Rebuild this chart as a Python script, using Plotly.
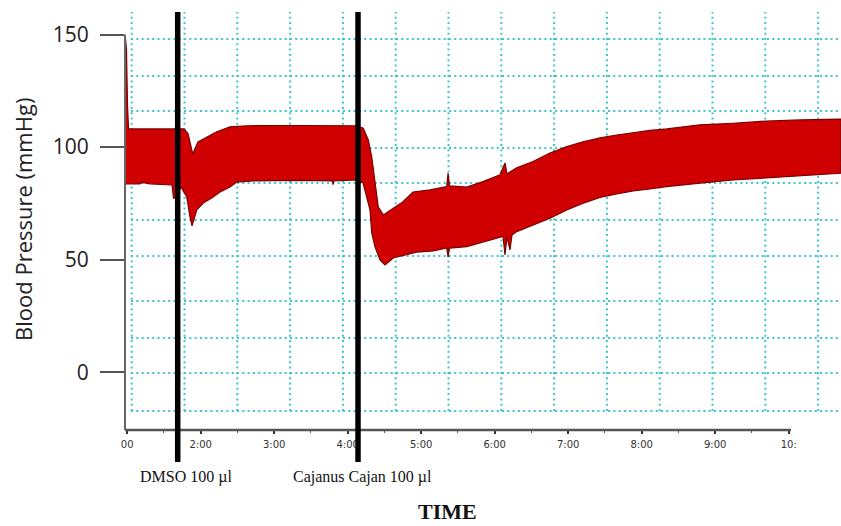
import plotly.graph_objects as go

# ---------------- data (time in minutes, pressure in mmHg) ----------------
UPPER_T = [0.975, 0.990, 1.004, 1.018, 1.664, 1.773, 1.828, 1.854, 1.891, 1.963,
           2.099, 2.218, 2.399, 2.626, 3.351, 4.122, 4.212, 4.280, 4.327, 4.371,
           4.416, 4.484, 4.616, 4.752, 4.888, 5.120, 5.347, 5.365, 5.385, 5.619,
           5.841, 6.072, 6.140, 6.167, 6.299, 6.521, 6.752, 6.980, 7.201, 7.433,
           7.660, 7.882, 8.113, 8.340, 8.793, 9.242, 9.701, 10.154, 10.711]
UPPER_BP = [149.0, 143.2, 118.7, 108.1, 108.1, 108.1, 105.9, 101.9, 97.0, 102.3,
            104.6, 106.8, 109.0, 109.5, 109.6, 109.5, 108.4, 103.2, 95.6, 84.1,
            73.4, 69.9, 73.0, 75.8, 80.1, 81.0, 82.5, 88.5, 82.8, 82.3,
            84.7, 87.7, 93.0, 88.1, 90.8, 93.6, 97.4, 100.2, 102.4, 104.1,
            105.4, 106.5, 107.4, 108.1, 109.9, 110.6, 111.6, 112.1, 112.4]

LOWER_T = [0.975, 1.174, 1.201, 1.310, 1.610, 1.630, 1.664, 1.732, 1.810, 1.854,
           1.882, 1.946, 2.035, 2.150, 2.263, 2.399, 2.490, 2.712, 3.351, 3.790,
           3.800, 3.810, 4.113, 4.208, 4.303, 4.327, 4.371, 4.439, 4.507, 4.620,
           4.756, 4.939, 5.165, 5.347, 5.365, 5.385, 5.619, 5.845, 6.113, 6.140,
           6.167, 6.208, 6.235, 6.299, 6.526, 6.752, 6.980, 7.205, 7.433, 7.660,
           7.886, 8.113, 8.340, 8.793, 9.246, 9.701, 10.154, 10.711]
LOWER_BP = [83.7, 83.7, 84.3, 83.7, 83.2, 77.4, 77.4, 82.3, 77.9, 69.0,
            65.0, 72.1, 75.2, 77.4, 80.1, 82.3, 84.5, 85.0, 85.2, 85.0,
            83.3, 85.0, 85.4, 84.1, 72.1, 61.9, 55.7, 49.9, 47.7, 50.8,
            52.1, 53.4, 53.9, 55.2, 51.2, 55.2, 55.8, 58.0, 60.3, 52.1,
            60.1, 54.4, 61.0, 62.5, 65.5, 68.4, 72.1, 75.1, 77.7, 79.2,
            80.6, 81.4, 82.5, 84.0, 85.4, 86.6, 87.3, 88.4]

EVENT_T = [1.687, 4.140]
EVENT_LABELS = ["DMSO 100 µl", "Cajanus Cajan 100 µl"]

X_TICKS = [1, 2, 3, 4, 5, 6, 7, 8, 9, 10]
X_TICK_TEXT = ["00", "2:00", "3:00", "4:00", "5:00", "6:00", "7:00", "8:00", "9:00", "10:"]
X_MINOR = [1.5, 2.5, 3.5, 4.5, 5.5, 6.5, 7.5, 8.5, 9.5]
Y_TICKS = [0, 50, 100, 150]

X_RANGE = [0.970, 10.711]
Y_RANGE = [-25.6, 160.0]

# ---------------- layout geometry (pixels) ----------------
W, H = 841, 526
ML, MR, MT, MB = 125, 0, 12, 96
PW, PH = W - ML - MR, H - MT - MB

def px_x(px):
    return (px - ML) / PW

def px_y(py):
    return (H - MB - py) / PH

GRID_V_PX = [131.7 + 52.8 * k for k in range(14)]
GRID_H_PX = [39, 76, 111, 148, 183, 220, 256, 301, 338, 373, 411]
GRID_COLOR = "#3cc6cc"
GRID_DASH = "2px,3.3px"

fig = go.Figure()

fig.add_trace(go.Scatter(
    x=UPPER_T + LOWER_T[::-1],
    y=UPPER_BP + LOWER_BP[::-1],
    mode="lines",
    fill="toself",
    fillcolor="#d00000",
    line=dict(color="#7a0000", width=1.2),
    hoverinfo="skip",
    showlegend=False,
))

shapes = []
# dotted recorder grid
for gx in GRID_V_PX:
    shapes.append(dict(type="line", xref="paper", yref="paper",
                       x0=px_x(gx), x1=px_x(gx), y0=px_y(411), y1=1,
                       line=dict(color=GRID_COLOR, width=2, dash=GRID_DASH),
                       layer="below"))
for gy in GRID_H_PX:
    shapes.append(dict(type="line", xref="paper", yref="paper",
                       x0=px_x(131), x1=1, y0=px_y(gy), y1=px_y(gy),
                       line=dict(color=GRID_COLOR, width=2, dash=GRID_DASH),
                       layer="below"))
# axis lines
shapes.append(dict(type="line", xref="paper", yref="y", x0=0, x1=0,
                   y0=Y_RANGE[0], y1=max(Y_TICKS),
                   line=dict(color="#666666", width=2), layer="above"))
shapes.append(dict(type="line", xref="x", yref="paper", x0=X_RANGE[0], x1=10.03,
                   y0=0, y1=0, line=dict(color="#555555", width=2.5), layer="above"))
# event markers
for et in EVENT_T:
    shapes.append(dict(type="line", xref="x", yref="paper", x0=et, x1=et,
                       y0=px_y(462), y1=1,
                       line=dict(color="black", width=5.5), layer="above"))

annotations = []
for et, lab, dx in zip(EVENT_T, EVENT_LABELS, [8, 4]):
    annotations.append(dict(x=et, xref="x", y=px_y(477), yref="paper",
                            text=lab, showarrow=False, xanchor="center",
                            yanchor="middle", xshift=dx,
                            font=dict(family="Liberation Serif", size=16, color="#111")))
annotations.append(dict(x=px_x(447), xref="paper", y=px_y(525), yref="paper",
                        text="<b>TIME</b>", showarrow=False, xanchor="center",
                        yanchor="bottom", borderpad=0,
                        font=dict(family="Liberation Serif", size=22, color="#111")))
annotations.append(dict(x=px_x(23), xref="paper", y=px_y(220), yref="paper",
                        text="Blood Pressure (mmHg)", showarrow=False, textangle=-90,
                        xanchor="center", yanchor="middle",
                        font=dict(family="Open Sans", size=22, color="#222")))

fig.update_layout(
    width=W, height=H,
    margin=dict(l=ML, r=MR, t=MT, b=MB, pad=0),
    paper_bgcolor="white", plot_bgcolor="white",
    showlegend=False,
    shapes=shapes,
    annotations=annotations,
    xaxis=dict(range=X_RANGE, showgrid=False, zeroline=False, showline=False,
               tickmode="array", tickvals=X_TICKS, ticktext=X_TICK_TEXT,
               ticks="outside", ticklen=3, tickwidth=1.5, tickcolor="#333",
               minor=dict(tickmode="array", tickvals=X_MINOR, ticks="outside",
                          ticklen=2, tickwidth=1, tickcolor="#555"),
               tickfont=dict(family="DejaVu Sans", size=10, color="#333"),
               ticklabelstandoff=2),
    yaxis=dict(range=Y_RANGE, showgrid=False, zeroline=False, showline=False,
               tickmode="array", tickvals=Y_TICKS,
               ticks="outside", ticklen=24, tickwidth=2, tickcolor="#555",
               tickfont=dict(family="Open Sans", size=21, color="#222"),
               ticklabelstandoff=7),
)

fig.write_html(
    "out.html",
    config={"displayModeBar": False},
    post_script="document.body.style.margin='0';document.body.style.overflow='hidden';",
)
